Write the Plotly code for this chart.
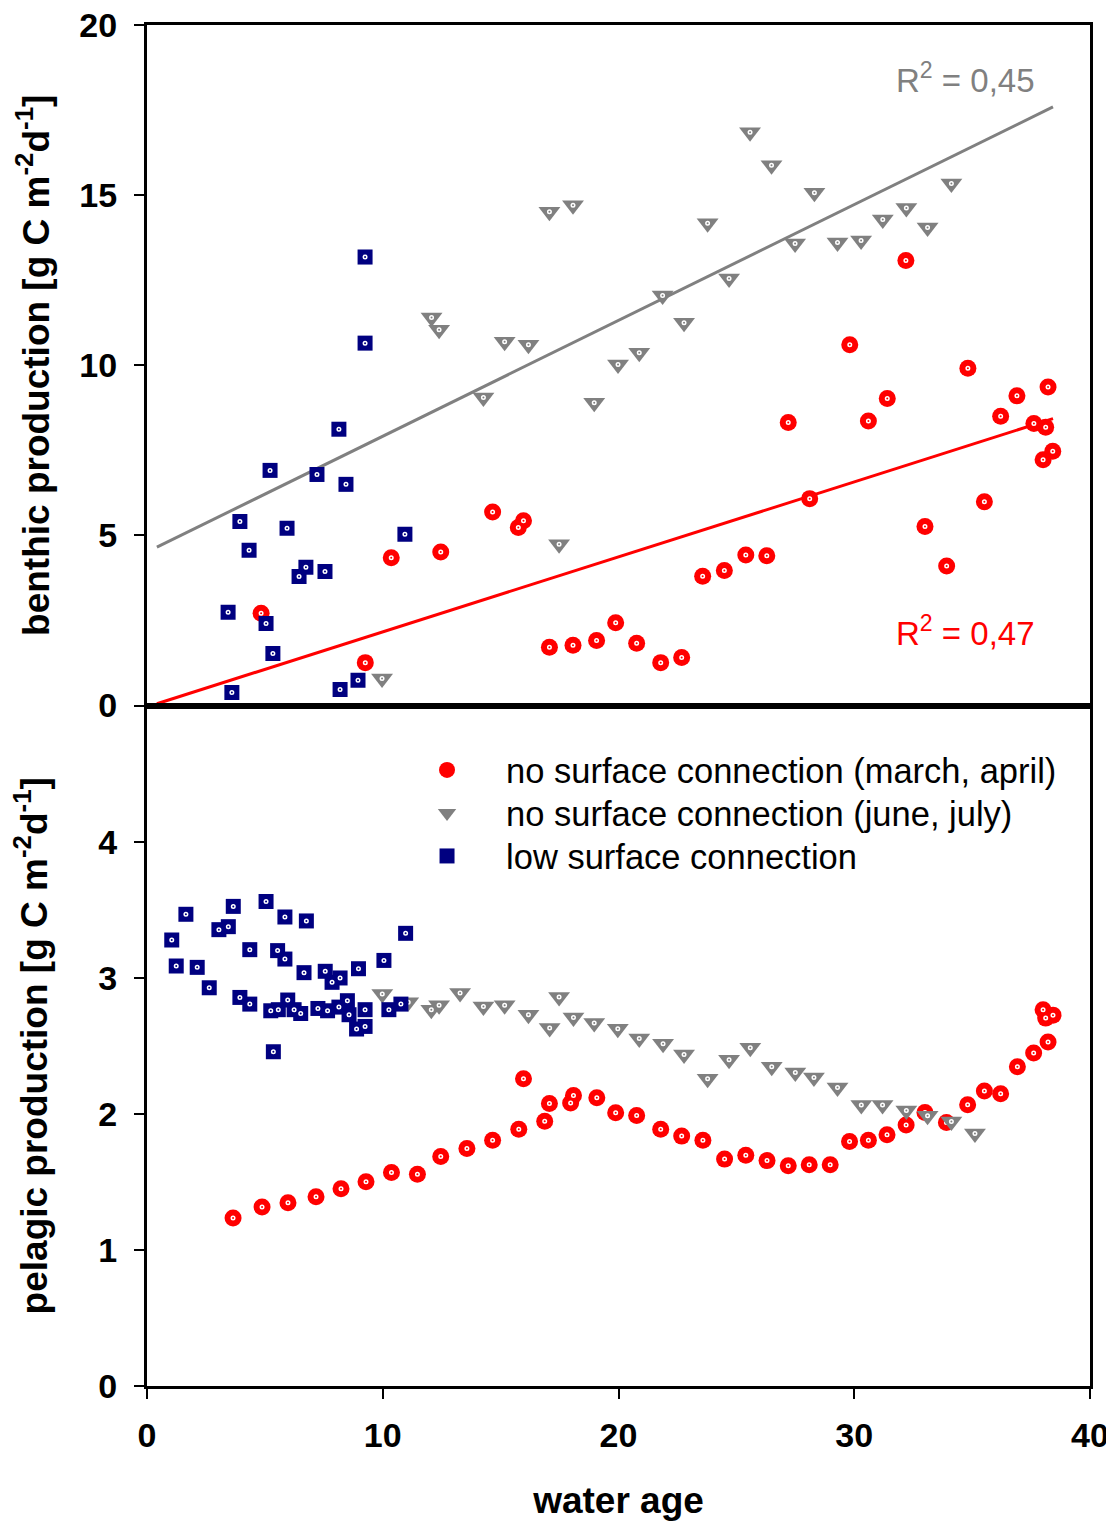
import plotly.graph_objects as go
from plotly.subplots import make_subplots

# ---------------- data ----------------
# top panel: benthic production
red_top_x = [4.84, 9.26, 10.36, 12.46, 14.66, 15.75, 15.97, 17.07, 18.07, 19.07, 19.88, 20.77,
             21.79, 22.68, 23.57, 24.49, 25.40, 26.29, 27.20, 28.11, 29.81, 30.60, 31.40, 32.19,
             33.00, 33.92, 34.82, 35.52, 36.21, 36.90, 37.62, 38.01, 38.12, 38.22, 38.42]
red_top_y = [2.71, 1.26, 4.34, 4.51, 5.69, 5.23, 5.43, 1.71, 1.77, 1.91, 2.43, 1.83,
             1.26, 1.41, 3.80, 3.97, 4.42, 4.40, 8.32, 6.08, 10.60, 8.36, 9.02, 13.08,
             5.26, 4.10, 9.91, 5.99, 8.50, 9.10, 8.29, 7.22, 8.18, 9.36, 7.47]

gray_top_x = [9.97, 12.07, 12.39, 14.27, 15.17, 16.18, 17.07, 17.48, 18.07, 18.97, 19.98, 20.88,
              21.87, 22.78, 23.78, 24.69, 25.58, 26.49, 27.49, 28.31, 29.29, 30.29, 31.21, 32.21,
              33.11, 34.12]
gray_top_y = [0.79, 11.40, 11.04, 9.05, 10.69, 10.60, 14.51, 4.74, 14.70, 8.90, 10.02, 10.37,
              12.05, 11.25, 14.17, 12.55, 16.85, 15.88, 13.58, 15.07, 13.61, 13.67, 14.28, 14.62,
              14.05, 15.34]

blue_top_x = [3.44, 3.60, 3.94, 4.33, 5.05, 5.22, 5.34, 5.94, 6.45, 6.74, 7.21, 7.55,
              8.14, 8.19, 8.44, 8.95, 9.25, 9.25, 10.94]
blue_top_y = [2.74, 0.38, 5.41, 4.56, 2.41, 6.91, 1.53, 5.21, 3.79, 4.06, 6.79, 3.94,
              8.12, 0.47, 6.50, 0.74, 13.18, 10.65, 5.03]

# bottom panel: pelagic production
red_bot_x = [3.65, 4.88, 5.98, 7.17, 8.23, 9.29, 10.37, 11.47, 12.46, 13.57, 14.66, 15.77,
             15.97, 16.87, 17.07, 17.97, 18.09, 19.08, 19.88, 20.77, 21.79, 22.68, 23.58, 24.50,
             25.40, 26.30, 27.20, 28.09, 28.98, 29.80, 30.60, 31.39, 32.20, 33.00, 33.91, 34.81,
             35.52, 36.21, 36.92, 37.61, 38.01, 38.12, 38.22, 38.43]
red_bot_y = [1.235, 1.316, 1.346, 1.390, 1.449, 1.500, 1.569, 1.556, 1.686, 1.745, 1.806, 1.887,
             2.257, 1.946, 2.076, 2.079, 2.135, 2.118, 2.007, 1.988, 1.887, 1.836, 1.806, 1.667,
             1.696, 1.656, 1.618, 1.625, 1.625, 1.797, 1.806, 1.846, 1.917, 2.010, 1.936, 2.066,
             2.167, 2.147, 2.346, 2.446, 2.765, 2.703, 2.527, 2.725]

gray_bot_x = [9.98, 11.08, 12.06, 12.39, 13.28, 14.27, 15.17, 16.18, 17.08, 17.48, 18.09, 18.97,
              19.97, 20.88, 21.89, 22.78, 23.78, 24.69, 25.59, 26.50, 27.50, 28.29, 29.29, 30.30,
              31.20, 32.21, 33.11, 34.12, 35.12]
gray_bot_y = [2.880, 2.820, 2.765, 2.797, 2.887, 2.789, 2.797, 2.728, 2.630, 2.858, 2.708, 2.667,
              2.625, 2.554, 2.515, 2.436, 2.257, 2.397, 2.485, 2.346, 2.304, 2.267, 2.194, 2.064,
              2.064, 2.024, 1.985, 1.944, 1.855]

blue_bot_x = [1.05, 1.24, 1.65, 2.13, 2.64, 3.05, 3.45, 3.66, 3.94, 4.36, 4.36, 5.05, 5.25,
              5.36, 5.54, 5.57, 5.85, 5.85, 5.97, 6.24, 6.52, 6.66, 6.76, 7.25, 7.56, 7.66,
              7.85, 8.14, 8.19, 8.50, 8.57, 8.89, 8.97, 9.25, 9.25, 10.05, 10.26, 10.77, 10.97]
blue_bot_y = [3.277, 3.086, 3.466, 3.076, 2.926, 3.353, 3.375, 3.524, 2.855, 3.206, 2.806, 3.560,
              2.757, 2.456, 3.199, 2.765, 3.446, 3.137, 2.836, 2.765, 2.737, 3.037, 3.417, 2.774,
              3.047, 2.757, 2.966, 2.784, 2.998, 2.831, 2.728, 2.623, 3.066, 2.765, 2.642, 3.127,
              2.765, 2.806, 3.326]

# linear trend lines (top panel)
trend_x_range = [0.42, 38.43]
gray_trend = {"slope": 0.3404, "intercept": 4.51, "r2": "0,45"}
red_trend = {"slope": 0.2204, "intercept": -0.04, "r2": "0,47"}

series_names = ["no surface connection (march, april)",
                "no surface connection (june, july)",
                "low surface connection"]

top_ticks = [0, 5, 10, 15, 20]
bot_ticks = [0, 1, 2, 3, 4]
x_ticks = [0, 10, 20, 30, 40]

# ---------------- styles ----------------
RED = "#FF0000"
GRAY = "#808080"
NAVY = "#000080"
FONT = "Liberation Sans, Arial, sans-serif"

styles = [
    dict(symbol="circle", size=17, color=RED),
    dict(symbol="triangle-down", size=19, color=GRAY),
    dict(symbol="square", size=15, color=NAVY),
]
legend_ids = ["legend", "legend2", "legend3"]
legend_rows_y = [0.4526, 0.4210, 0.3894]   # one legend box per entry, stacked rows

fig = make_subplots(rows=2, cols=1, shared_xaxes=True, vertical_spacing=0)

# trend lines (below markers)
for tr, col in [(gray_trend, GRAY), (red_trend, RED)]:
    xs = trend_x_range
    ys = [tr["slope"] * v + tr["intercept"] for v in xs]
    fig.add_trace(go.Scatter(x=xs, y=ys, mode="lines", line=dict(color=col, width=3),
                             showlegend=False, hoverinfo="skip"), row=1, col=1)

top_data = [(red_top_x, red_top_y), (gray_top_x, gray_top_y), (blue_top_x, blue_top_y)]
bot_data = [(red_bot_x, red_bot_y), (gray_bot_x, gray_bot_y), (blue_bot_x, blue_bot_y)]

for row, data, show in [(1, top_data, True), (2, bot_data, False)]:
    for (xs, ys), st, name, lid in zip(data, styles, series_names, legend_ids):
        fig.add_trace(go.Scatter(
            x=xs, y=ys, mode="markers", name=name, showlegend=show, legend=lid,
            marker=dict(symbol=st["symbol"], size=st["size"], color=st["color"],
                        line=dict(width=0)),
            legendgroup=name), row=row, col=1)
        # white centre dot
        fig.add_trace(go.Scatter(
            x=xs, y=ys, mode="markers", showlegend=False, hoverinfo="skip",
            marker=dict(symbol="circle-open", size=3.5, color="white",
                        line=dict(width=1.5, color="white")),
            legendgroup=name), row=row, col=1)

# R^2 labels
fig.add_annotation(x=34.7, y=18.45, xref="x", yref="y", text="R<sup>2</sup> = " + gray_trend["r2"],
                   showarrow=False, font=dict(family=FONT, size=33, color=GRAY))
fig.add_annotation(x=34.7, y=2.19, xref="x", yref="y", text="R<sup>2</sup> = " + red_trend["r2"],
                   showarrow=False, font=dict(family=FONT, size=33, color=RED))

axis_common = dict(showline=True, linecolor="black", linewidth=3, mirror=True,
                   showgrid=False, zeroline=False, automargin=False,
                   ticklabeloverflow="allow",
                   tickfont=dict(family=FONT, size=34, color="black", weight="bold"),
                   tickcolor="black", tickwidth=1.5, ticklen=10)

title_font = dict(family=FONT, size=37, color="black")

fig.update_xaxes(range=[0, 40], **axis_common)
fig.update_xaxes(row=1, col=1, ticks="", showticklabels=False)
fig.update_xaxes(row=2, col=1, ticks="outside", tickvals=x_ticks, ticklabelstandoff=7,
                 title=dict(text="<b>water age</b>", standoff=41, font=title_font))
fig.update_yaxes(row=1, col=1, range=[0, 20], tickvals=top_ticks, ticks="outside",
                 ticklabelstandoff=10,
                 title=dict(text="<b>benthic production [g C m<sup>-2</sup>d<sup>-1</sup>]</b>",
                            standoff=19, font=title_font),
                 **axis_common)
fig.update_yaxes(row=2, col=1, range=[0, 5], tickvals=bot_ticks, ticks="outside",
                 ticklabelstandoff=10,
                 title=dict(text="<b>pelagic production [g C m<sup>-2</sup>d<sup>-1</sup>]</b>",
                            standoff=41, font=title_font),
                 **axis_common)

legend_style = dict(x=0.2556, xanchor="left", yanchor="middle",
                    bgcolor="rgba(0,0,0,0)", itemwidth=108,
                    font=dict(family=FONT, size=34.5, color="black"))

# the page body adds an 8px offset, so the figure is 8px smaller than the window
fig.update_layout(
    width=1106, height=1513,
    margin=dict(l=139, r=24, t=17, b=135),
    paper_bgcolor="white", plot_bgcolor="white",
    font=dict(family=FONT, color="black"),
    legend=dict(y=legend_rows_y[0], **legend_style),
    legend2=dict(y=legend_rows_y[1], **legend_style),
    legend3=dict(y=legend_rows_y[2], **legend_style),
)

fig.write_html("out.html")
